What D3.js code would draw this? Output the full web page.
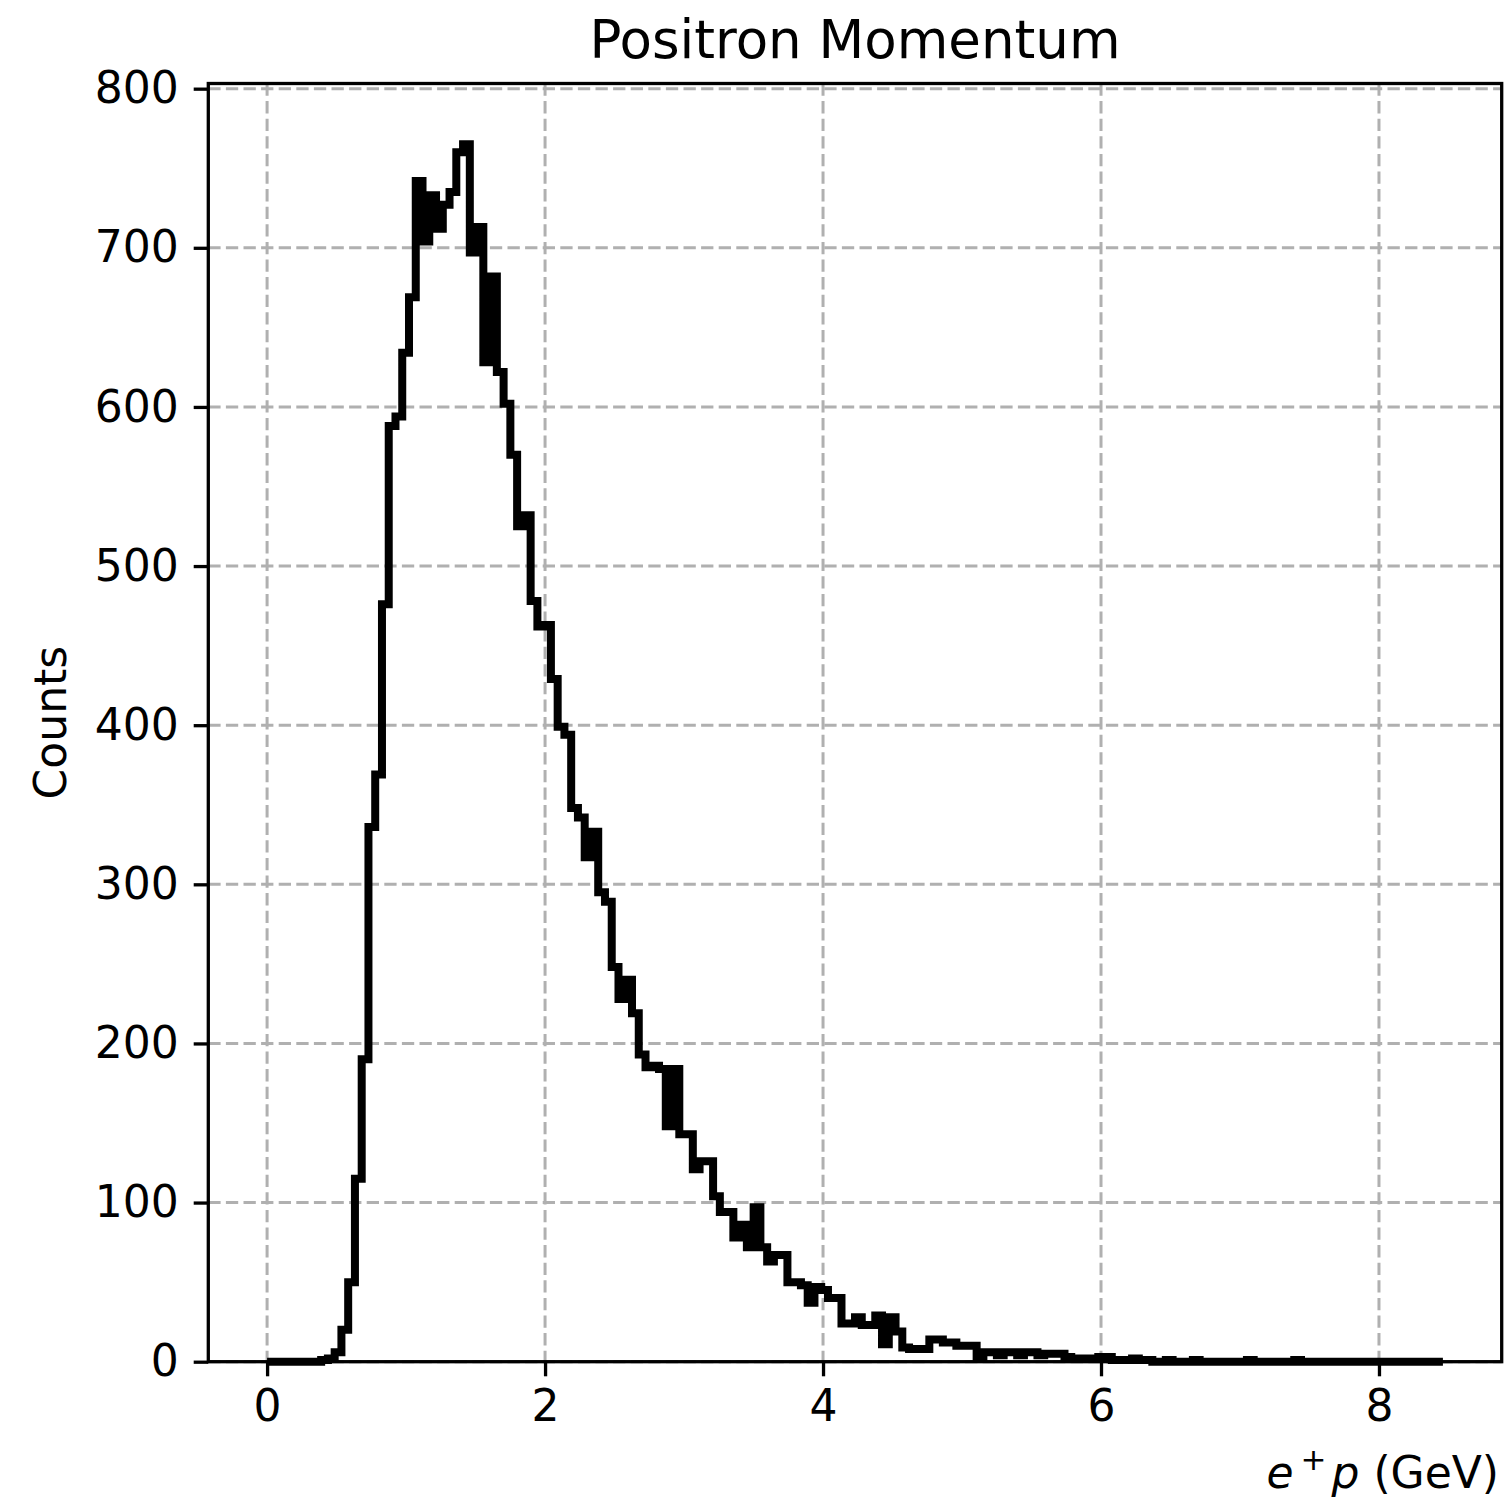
<!DOCTYPE html>
<html>
<head>
<meta charset="utf-8">
<script src="https://cdn.jsdelivr.net/npm/d3@7"></script>
<style>
body { margin: 0; background: #fff; }
text { font-family: "DejaVu Sans", sans-serif; fill: #000; }
</style>
</head>
<body>
<script>
// histogram counts, equal bins from binStart to binEnd
const counts = [
    0, 0, 0, 0, 0, 0, 0, 0, 1, 2,
    6, 20, 50, 115, 190, 336, 369, 476, 588, 594,
    634, 669, 742, 704, 733, 712, 727, 735, 760, 765,
    697, 713, 628, 682, 622, 602, 570, 525, 532, 478,
    462, 463, 429, 399, 394, 348, 342, 317, 333, 295,
    289, 248, 228, 240, 219, 193, 185, 186, 184, 148,
    184, 143, 143, 121, 126, 126, 104, 94, 94, 78,
    86, 72, 97, 72, 63, 67, 67, 50, 50, 48,
    37, 47, 45, 40, 40, 24, 24, 28, 23, 23,
    29, 11, 28, 19, 9, 8, 8, 8, 14, 14,
    12, 12, 10, 10, 10, 3, 6, 6, 4, 6,
    6, 4, 6, 6, 4, 5, 5, 5, 3, 2,
    2, 2, 2, 3, 3, 1, 1, 1, 2, 1,
    1, 0, 0, 1, 0, 0, 0, 1, 0, 0,
    0, 0, 0, 0, 0, 1, 0, 0, 0, 0,
    0, 0, 1, 0, 0, 0, 0, 0, 0, 0,
    0, 0, 0, 0, 0, 0, 0, 0, 0, 0,
    0, 0, 0, 0
];
const binStart = 0;
const binEnd = 8.46;
const xTicks = [0, 2, 4, 6, 8];
const yTicks = [0, 100, 200, 300, 400, 500, 600, 700, 800];
const titleText = "Positron Momentum";
const yLabel = "Counts";

const width = 1506, height = 1498;
const margin = { top: 83.5, right: 4.3, bottom: 136.3, left: 208.3 };
const plotW = width - margin.left - margin.right;
const plotH = height - margin.top - margin.bottom;
const tickFont = 44;

const svg = d3.select("body").append("svg")
    .attr("width", width)
    .attr("height", height);

const g = svg.append("g")
    .attr("transform", `translate(${margin.left},${margin.top})`);

const pad = 0.05 * (binEnd - binStart);
const xScale = d3.scaleLinear()
    .domain([binStart - pad, binEnd + pad])
    .range([0, plotW]);

const yScale = d3.scaleLinear()
    .domain([0, d3.max(counts) * 1.05])
    .range([plotH, 0]);

// grid
g.append("g").selectAll("line").data(xTicks).join("line")
    .attr("x1", d => xScale(d)).attr("x2", d => xScale(d))
    .attr("y1", 0).attr("y2", plotH)
    .attr("stroke", "#b0b0b0").attr("stroke-width", 3)
    .attr("stroke-dasharray", "12.3,5.3");

g.append("g").selectAll("line").data(yTicks).join("line")
    .attr("x1", 0).attr("x2", plotW)
    .attr("y1", d => yScale(d)).attr("y2", d => yScale(d))
    .attr("stroke", "#b0b0b0").attr("stroke-width", 3)
    .attr("stroke-dasharray", "12.3,5.3");

// step outline
const binW = (binEnd - binStart) / counts.length;
const pts = [[binStart, 0]];
counts.forEach((c, i) => pts.push([binStart + i * binW, c]));
pts.push([binEnd, 0]);

const line = d3.line()
    .x(d => xScale(d[0]))
    .y(d => yScale(d[1]))
    .curve(d3.curveStepAfter);

g.append("path")
    .attr("d", line(pts))
    .attr("fill", "none")
    .attr("stroke", "#000")
    .attr("stroke-width", 8)
    .attr("stroke-linejoin", "miter");

// axes
const xAxis = d3.axisBottom(xScale)
    .tickValues(xTicks)
    .tickSize(14.6)
    .tickPadding(13)
    .tickFormat(d3.format("d"));

const yAxis = d3.axisLeft(yScale)
    .tickValues(yTicks)
    .tickSize(14.6)
    .tickPadding(15)
    .tickFormat(d3.format("d"));

const gx = g.append("g")
    .attr("transform", `translate(0,${plotH})`)
    .call(xAxis);
const gy = g.append("g").call(yAxis);

[gx, gy].forEach(a => {
    a.select(".domain").remove();
    a.selectAll(".tick line").attr("stroke", "#000").attr("stroke-width", 3.3);
    a.selectAll(".tick text")
        .attr("font-family", "DejaVu Sans")
        .attr("font-size", tickFont)
        .attr("fill", "#000");
});

// spines
g.append("rect")
    .attr("width", plotW)
    .attr("height", plotH)
    .attr("fill", "none")
    .attr("stroke", "#000")
    .attr("stroke-width", 3.3);

// title
svg.append("text")
    .attr("x", margin.left + plotW / 2)
    .attr("y", 58)
    .attr("text-anchor", "middle")
    .attr("font-size", 53)
    .text(titleText);

// y label
svg.append("text")
    .attr("transform", `translate(66,${margin.top + plotH / 2}) rotate(-90)`)
    .attr("text-anchor", "middle")
    .attr("font-size", tickFont)
    .text(yLabel);

// x label (right aligned)
const xl = svg.append("text")
    .attr("x", width - 7)
    .attr("y", 1488)
    .attr("text-anchor", "end")
    .attr("font-size", tickFont);
xl.append("tspan").attr("font-style", "italic").text("e");
xl.append("tspan").attr("dy", -18).attr("font-size", 31).attr("dx", 7).text("+");
xl.append("tspan").attr("dy", 18).attr("font-style", "italic").attr("dx", 5).text("p");
xl.append("tspan").text(" (GeV)");
</script>
</body>
</html>
